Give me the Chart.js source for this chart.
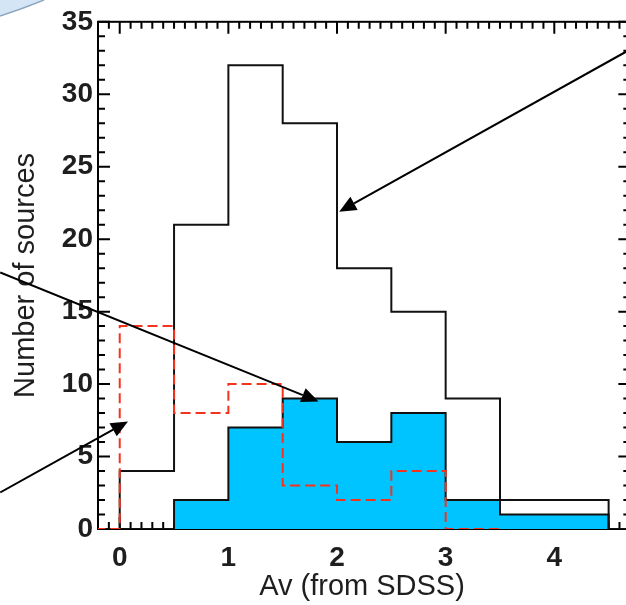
<!DOCTYPE html>
<html>
<head>
<meta charset="utf-8">
<script src="https://cdn.jsdelivr.net/npm/chart.js@4.4.1/dist/chart.umd.min.js"></script>
<style>
  html, body { margin: 0; padding: 0; background: #fff; }
  canvas { display: block; }
</style>
</head>
<body>
<canvas id="avChart" width="626" height="605"></canvas>
<script>
/* ===============================
   Data (histogram bins of Av)
   =============================== */
const binEdges = [-0.5, 0, 0.5, 1, 1.5, 2, 2.5, 3, 3.5, 4, 4.5, 5];

// black outline: all sources
const totalCounts = [0, 4, 21, 32, 28, 18, 15, 9, 1, 1, 0];
// cyan subset: outline and filled area
const cyanOutline = [0, 0, 2, 7, 9, 6, 8, 2, 2, 2, 0];
const cyanFill = [0, 0, 2, 7, 9, 6, 8, 2, 1, 1, 0];
// red dashed histogram
const redCounts = [0, 14, 8, 10, 3, 2, 4, 0];

const xTickValues = [0, 1, 2, 3, 4];
const yTickValues = [0, 5, 10, 15, 20, 25, 30, 35];

// arrows, in data units (tail -> head)
const arrowFromX = [4.7, -1.10, -1.10];
const arrowFromY = [33.1, 17.7, 2.52];
const arrowToX = [2.02, 1.83, 0.076];
const arrowToY = [21.9, 8.8, 7.42];

const xMin = -0.2;
const xMax = 4.66;
const frameRight = 4.7;
const yMin = 0;
const yMax = 35;

document.addEventListener("DOMContentLoaded", () => {
  if (typeof Chart === "undefined") {
    console.error("Chart.js not loaded");
    return;
  }

  // bin counts -> points; with stepped "before" each value is held up to the next edge
  const stepPoints = counts => {
    const pts = counts.map((c, i) => ({ x: binEdges[i], y: c }));
    pts.push({ x: binEdges[counts.length], y: counts[counts.length - 1] });
    return pts;
  };

  const textColor = "#1e1e1e";
  const fontFamily = "'Liberation Sans', Arial, sans-serif";

  /* ===============================
     Plugins: corner tab, frame, arrows
     =============================== */
  const cornerTab = {
    id: "cornerTab",
    beforeDraw(chart) {
      const ctx = chart.ctx;
      ctx.save();
      ctx.beginPath();
      ctx.moveTo(0, 0);
      ctx.lineTo(44, 0);
      ctx.quadraticCurveTo(22, 9, 0, 16);
      ctx.closePath();
      ctx.fillStyle = "#d4e5f6";
      ctx.fill();
      ctx.beginPath();
      ctx.moveTo(44, 0);
      ctx.quadraticCurveTo(22, 9, 0, 16);
      ctx.strokeStyle = "#8ea6bf";
      ctx.lineWidth = 1.5;
      ctx.stroke();
      ctx.restore();
    }
  };

  const frame = {
    id: "frame",
    beforeDatasetsDraw(chart) {
      const { ctx, scales: { x, y } } = chart;
      const L = x.getPixelForValue(xMin);
      const R = x.getPixelForValue(frameRight);
      const T = y.getPixelForValue(yMax);
      const B = y.getPixelForValue(yMin);

      ctx.save();
      ctx.strokeStyle = "#000";
      ctx.lineWidth = 2;
      ctx.strokeRect(L, T, R - L, B - T);

      ctx.beginPath();
      // x ticks every 0.1, long at integers
      for (let i = -2; i <= 47; i++) {
        const px = x.getPixelForValue(i / 10);
        const len = i % 10 === 0 ? 12 : 7;
        ctx.moveTo(px, B);
        ctx.lineTo(px, B - len);
        ctx.moveTo(px, T);
        ctx.lineTo(px, T + len);
      }
      // y ticks every 1, long at multiples of 5
      for (let v = yMin; v <= yMax; v++) {
        const py = y.getPixelForValue(v);
        const len = v % 5 === 0 ? 12 : 7;
        ctx.moveTo(L, py);
        ctx.lineTo(L + len, py);
        ctx.moveTo(R, py);
        ctx.lineTo(R - len, py);
      }
      ctx.stroke();
      ctx.restore();
    }
  };

  const arrows = {
    id: "arrows",
    afterDraw(chart) {
      const { ctx, scales: { x, y } } = chart;
      ctx.save();
      ctx.strokeStyle = "#000";
      ctx.fillStyle = "#000";
      ctx.lineWidth = 2;
      arrowFromX.forEach((fx, i) => {
        const x0 = x.getPixelForValue(fx);
        const y0 = y.getPixelForValue(arrowFromY[i]);
        const x1 = x.getPixelForValue(arrowToX[i]);
        const y1 = y.getPixelForValue(arrowToY[i]);
        const ang = Math.atan2(y1 - y0, x1 - x0);
        const headLen = 17;
        const headHalf = 7.5;
        const bx = x1 - headLen * Math.cos(ang);
        const by = y1 - headLen * Math.sin(ang);

        ctx.beginPath();
        ctx.moveTo(x0, y0);
        ctx.lineTo(bx, by);
        ctx.stroke();

        ctx.beginPath();
        ctx.moveTo(x1, y1);
        ctx.lineTo(bx + headHalf * Math.sin(ang), by - headHalf * Math.cos(ang));
        ctx.lineTo(bx - headHalf * Math.sin(ang), by + headHalf * Math.cos(ang));
        ctx.closePath();
        ctx.fill();
      });
      ctx.restore();
    }
  };

  /* ===============================
     Build chart
     (higher order is drawn first, so the fill sits at the bottom)
     =============================== */
  const lineBase = {
    stepped: "before",
    pointRadius: 0,
    borderJoinStyle: "miter",
    borderCapStyle: "butt"
  };

  new Chart(document.getElementById("avChart").getContext("2d"), {
    type: "line",
    data: {
      datasets: [
        {
          ...lineBase,
          label: "cyan fill",
          order: 4,
          data: stepPoints(cyanFill),
          borderWidth: 0,
          borderColor: "rgba(0,0,0,0)",
          backgroundColor: "#00c4ff",
          fill: "origin"
        },
        {
          ...lineBase,
          label: "cyan outline",
          order: 3,
          data: stepPoints(cyanOutline),
          borderColor: "#111",
          borderWidth: 2,
          fill: false
        },
        {
          ...lineBase,
          label: "all",
          order: 2,
          data: stepPoints(totalCounts),
          borderColor: "#111",
          borderWidth: 2,
          fill: false
        },
        {
          ...lineBase,
          label: "red",
          order: 1,
          data: stepPoints(redCounts),
          borderColor: "#f5331d",
          borderWidth: 2,
          borderDash: [10, 5],
          fill: false
        }
      ]
    },
    options: {
      responsive: false,
      animation: false,
      events: [],
      devicePixelRatio: 1,
      layout: { padding: { top: 15, left: 0, right: 0, bottom: 0 } },
      plugins: {
        legend: { display: false },
        tooltip: { enabled: false }
      },
      scales: {
        x: {
          type: "linear",
          position: "bottom",
          min: xMin,
          max: xMax,
          grid: { display: false, drawTicks: false },
          border: { display: false },
          afterBuildTicks: s => { s.ticks = xTickValues.map(v => ({ value: v })); },
          afterFit: s => { s.height = 76; },
          ticks: {
            color: textColor,
            padding: 12,
            maxRotation: 0,
            autoSkip: false,
            font: { family: fontFamily, size: 28, weight: "bold" }
          },
          title: {
            display: true,
            text: "Av (from SDSS)",
            color: textColor,
            padding: { top: 0, bottom: 1 },
            font: { family: fontFamily, size: 29 }
          }
        },
        y: {
          type: "linear",
          position: "left",
          min: yMin,
          max: yMax,
          grid: { display: false, drawTicks: false },
          border: { display: false },
          afterBuildTicks: s => { s.ticks = yTickValues.map(v => ({ value: v })); },
          afterFit: s => { s.width = 98; },
          ticks: {
            color: textColor,
            padding: 5,
            autoSkip: false,
            font: { family: fontFamily, size: 28, weight: "bold" }
          },
          title: {
            display: true,
            text: "Number of sources",
            color: textColor,
            padding: { top: 9, bottom: 0 },
            font: { family: fontFamily, size: 29 }
          }
        }
      }
    },
    plugins: [cornerTab, frame, arrows]
  });
});
</script>
</body>
</html>
